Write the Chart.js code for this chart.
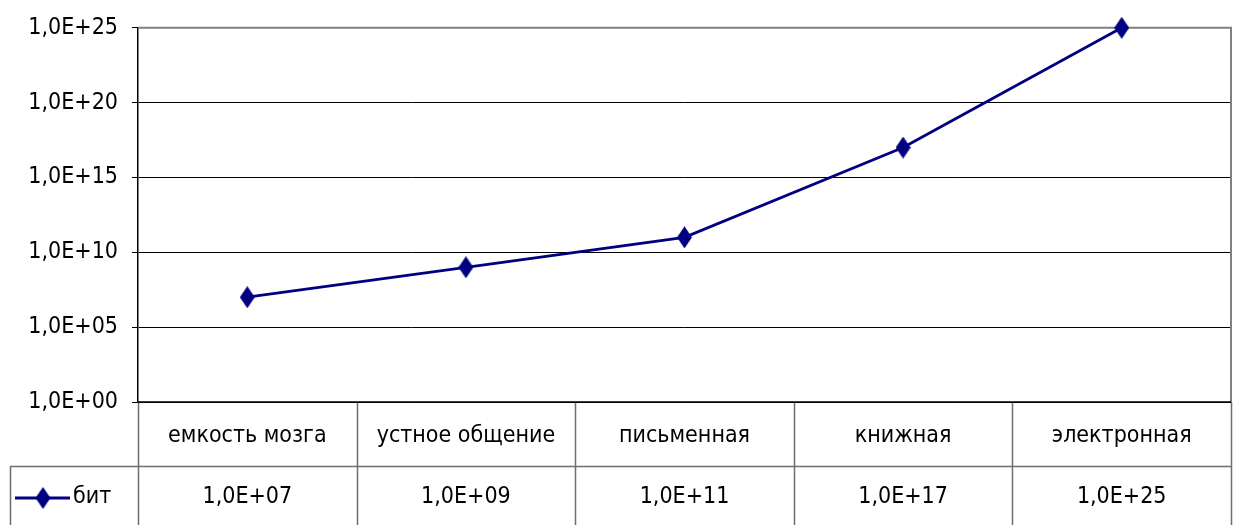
<!DOCTYPE html>
<html><head><meta charset="utf-8">
<script src="https://cdn.jsdelivr.net/npm/chart.js@4"></script>
<style>html,body{margin:0;padding:0;background:#fff;}#wrap{width:1234px;height:525px;}</style>
</head><body><div id="wrap"><canvas id="c" width="1234" height="525"></canvas></div>
<script>
const categories = ['емкость мозга','устное общение','письменная','книжная','электронная'];
const seriesName = 'бит';
const bits = [1e7, 1e9, 1e11, 1e17, 1e25];
const tableLabels = ['1,0E+07','1,0E+09','1,0E+11','1,0E+17','1,0E+25'];
const yTicks = [1e0, 1e5, 1e10, 1e15, 1e20, 1e25];
const yTickLabels = ['1,0E+00','1,0E+05','1,0E+10','1,0E+15','1,0E+20','1,0E+25'];

const FONT = "'DejaVu Sans Condensed','DejaVu Sans',sans-serif";
const FSIZE = 23;
const NAVY = '#000080';
const GRAY = '#6e6e6e';

function diamond(w, h) {
  const c = document.createElement('canvas');
  c.width = w; c.height = h;
  const g = c.getContext('2d');
  g.fillStyle = NAVY;
  g.beginPath();
  g.moveTo(w/2, 0); g.lineTo(w, h/2); g.lineTo(w/2, h); g.lineTo(0, h/2); g.closePath();
  g.fill();
  return c;
}
const marker = diamond(15, 22);

const tablePlugin = {
  id: 'table',
  afterDraw(chart) {
    const ctx = chart.ctx;
    const ca = chart.chartArea;
    const xs = chart.scales.x;
    const band = xs.getPixelForValue(1) - xs.getPixelForValue(0);
    const bounds = [];
    for (let i = 0; i <= categories.length; i++) bounds.push(xs.getPixelForValue(0) - band/2 + i*band);
    const row1Top = ca.bottom, row2Top = 466.5, bottom = 525;
    ctx.save();
    ctx.strokeStyle = GRAY;
    ctx.lineWidth = 1.5;
    ctx.beginPath();
    ctx.moveTo(10, row2Top); ctx.lineTo(bounds[bounds.length-1], row2Top);
    ctx.moveTo(10.5, row2Top); ctx.lineTo(10.5, bottom);
    bounds.forEach((b) => { ctx.moveTo(Math.round(b)+0.5, row1Top); ctx.lineTo(Math.round(b)+0.5, bottom); });
    ctx.stroke();
    ctx.strokeStyle = '#000';
    ctx.lineWidth = 1.5;
    ctx.beginPath();
    ctx.moveTo(ca.left, row1Top); ctx.lineTo(ca.right, row1Top);
    ctx.stroke();
    ctx.fillStyle = '#000';
    ctx.font = FSIZE + 'px ' + FONT;
    ctx.textAlign = 'center';
    ctx.textBaseline = 'middle';
    categories.forEach((c, i) => ctx.fillText(c, xs.getPixelForValue(i), 436));
    tableLabels.forEach((t, i) => ctx.fillText(t, xs.getPixelForValue(i), 497));
    ctx.strokeStyle = NAVY; ctx.lineWidth = 2.8;
    ctx.beginPath(); ctx.moveTo(15, 498); ctx.lineTo(70, 498); ctx.stroke();
    ctx.drawImage(marker, 43 - 7.5, 498 - 11);
    ctx.textAlign = 'left';
    ctx.fillText(seriesName, 73, 497);
    ctx.restore();
  }
};

const borderPlugin = {
  id: 'plotBorder',
  beforeDatasetsDraw(chart) {
    const ctx = chart.ctx, ca = chart.chartArea;
    ctx.save();
    ctx.strokeStyle = '#808080';
    ctx.lineWidth = 2;
    ctx.beginPath();
    ctx.moveTo(ca.left, ca.top); ctx.lineTo(ca.right, ca.top); ctx.lineTo(ca.right, ca.bottom);
    ctx.stroke();
    ctx.restore();
  }
};

new Chart(document.getElementById('c'), {
  type: 'line',
  data: {
    labels: categories,
    datasets: [{
      label: seriesName,
      data: bits,
      borderColor: NAVY,
      backgroundColor: NAVY,
      borderWidth: 2.8,
      tension: 0,
      clip: false,
      pointStyle: marker,
      pointRadius: 10
    }]
  },
  options: {
    responsive: false,
    animation: false,
    devicePixelRatio: 1,
    layout: { autoPadding: false, padding: { top: 23, left: 0, right: 3, bottom: 123 } },
    plugins: { legend: { display: false }, tooltip: { enabled: false } },
    scales: {
      x: {
        type: 'category',
        offset: true,
        display: false,
        grid: { display: false }
      },
      y: {
        type: 'logarithmic',
        min: 1, max: 1e25,
        afterBuildTicks: s => { s.ticks = yTicks.map(v => ({ value: v })); },
        afterFit: s => { s.width = 138; },
        ticks: {
          autoSkip: false,
          color: '#000',
          padding: 14,
          font: { family: FONT, size: FSIZE },
          callback: (v) => yTickLabels[yTicks.indexOf(v)]
        },
        grid: {
          color: '#000',
          lineWidth: 1,
          tickLength: 6,
          drawTicks: true
        },
        border: { color: '#000', width: 1.5 }
      }
    }
  },
  plugins: [borderPlugin, tablePlugin]
});
</script>
</body></html>
